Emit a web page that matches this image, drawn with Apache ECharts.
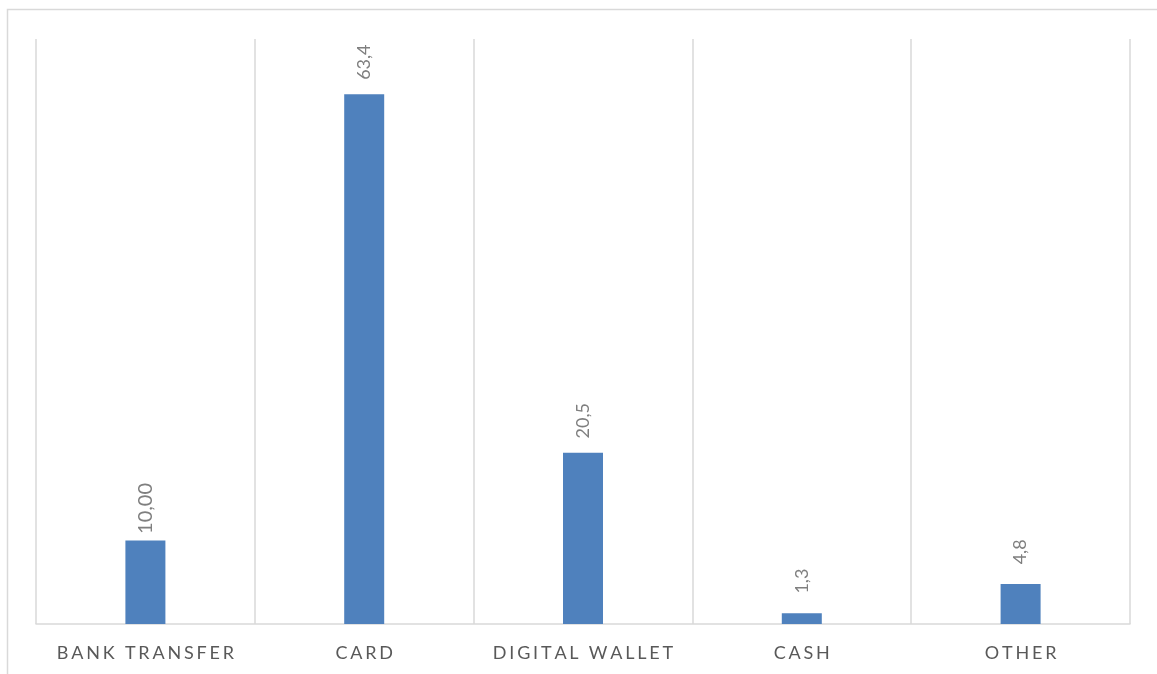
<!DOCTYPE html>
<html>
<head>
<meta charset="utf-8">
<title>Payment methods</title>
<script src="https://cdn.jsdelivr.net/npm/echarts@6/dist/echarts.min.js"></script>
<style>
  html, body { margin: 0; padding: 0; background: #ffffff; }
  #chart { width: 1157px; height: 674px; }
</style>
</head>
<body>
<div id="chart"></div>
<script>
// Share of payments by method
const categories = ['BANK TRANSFER', 'CARD', 'DIGITAL WALLET', 'CASH', 'OTHER'];
const shares = [10.00, 63.4, 20.5, 1.3, 4.8];
const shareLabels = ['10,00', '63,4', '20,5', '1,3', '4,8'];
const valueMax = 70;

// Spread capital letters apart: each glyph is its own rich-text token with side padding
function spaced(text) {
  return text.split('').map(ch => '{c|' + (ch === ' ' ? '\u00A0' : ch) + '}').join('');
}

const chart = echarts.init(document.getElementById('chart'), null, { renderer: 'canvas' });

chart.setOption({
  backgroundColor: '#ffffff',
  animation: false,
  graphic: [{
    type: 'rect',
    shape: { x: 7.5, y: 9.5, width: 1300, height: 800 },
    style: { fill: 'none', stroke: '#d9d9d9', lineWidth: 1.5 },
    silent: true,
    z: -1
  }],
  grid: { left: 36, right: 27, top: 39, bottom: 50, containLabel: false },
  xAxis: {
    type: 'category',
    data: categories,
    boundaryGap: true,
    axisLine: { show: true, lineStyle: { color: '#d9d9d9', width: 1.5 } },
    axisTick: { show: false },
    splitLine: { show: true, interval: 0, lineStyle: { color: '#d9d9d9', width: 1.5 } },
    axisLabel: {
      interval: 0,
      margin: 20,
      color: '#595959',
      fontFamily: 'Lato',
      fontSize: 18,
      formatter: v => spaced(v),
      rich: {
        c: { fontFamily: 'Lato', fontSize: 18, color: '#595959', padding: [0, 1.4] }
      }
    }
  },
  yAxis: {
    type: 'value',
    min: 0,
    max: valueMax,
    interval: 10,
    show: true,
    axisLine: { show: false },
    axisTick: { show: false },
    axisLabel: { show: false },
    splitLine: { show: false }
  },
  series: [{
    type: 'bar',
    barWidth: 40,
    itemStyle: { color: '#4f81bd' },
    data: shares.map((v, i) => i === 0 ? { value: v, label: { fontSize: 20 } } : v),
    label: {
      show: true,
      position: 'top',
      distance: 32,
      rotate: 90,
      align: 'center',
      verticalAlign: 'middle',
      color: '#7f7f7f',
      fontFamily: 'Lato',
      fontSize: 18,
      formatter: p => shareLabels[p.dataIndex]
    }
  }]
});
</script>
</body>
</html>
